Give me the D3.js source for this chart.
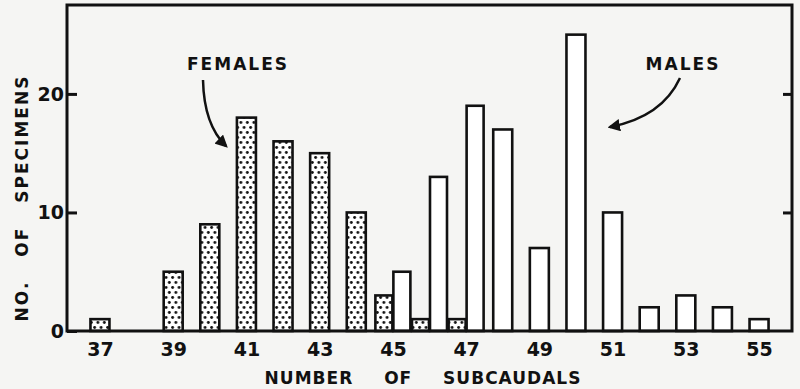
<!DOCTYPE html>
<html>
<head>
<meta charset="utf-8">
<script src="https://cdn.jsdelivr.net/npm/d3@7"></script>
<style>
  body { margin: 0; background: #f5f5f3; }
  svg { display: block; }
  text { font-family: "DejaVu Sans", sans-serif; font-weight: bold; fill: #111; }
</style>
</head>
<body>
<script>
// subcaudal counts and number of specimens
const subcaudals = [37, 38, 39, 40, 41, 42, 43, 44, 45, 46, 47, 48, 49, 50, 51, 52, 53, 54, 55];
const females    = [1, 0, 5, 9, 18, 16, 15, 10, 3, 1, 1, 0, 0, 0, 0, 0, 0, 0, 0];
const males      = [0, 0, 0, 0, 0, 0, 0, 0, 5, 13, 19, 17, 7, 25, 10, 2, 3, 2, 1];
const xTicks = [37, 39, 41, 43, 45, 47, 49, 51, 53, 55];
const yTicks = [0, 10, 20];

const W = 800, H = 389;
const margin = { top: 5, right: 8, bottom: 58, left: 67 };
const width = W - margin.left - margin.right;
const height = H - margin.top - margin.bottom;

const svg = d3.select("body").append("svg")
  .attr("width", W)
  .attr("height", H);

// stipple for the female bars
const defs = svg.append("defs");
const pat = defs.append("pattern")
  .attr("id", "dots")
  .attr("patternUnits", "userSpaceOnUse")
  .attr("width", 6.5)
  .attr("height", 10);
pat.append("rect").attr("width", 6.5).attr("height", 10).attr("fill", "#fff");
pat.append("circle").attr("cx", 1.6).attr("cy", 2.5).attr("r", 1.45).attr("fill", "#111");
pat.append("circle").attr("cx", 4.85).attr("cy", 7.5).attr("r", 1.45).attr("fill", "#111");

const g = svg.append("g").attr("transform", `translate(${margin.left},${margin.top})`);

// scales
const x = d3.scaleLinear().domain([36.1, 55.9]).range([0, width]);
const y = d3.scaleLinear().domain([0, 27.5]).range([height, 0]);

const rows = subcaudals.map((v, i) => ({ v, f: females[i], m: males[i] }));

// bars: single bars are centred on the count, paired ones sit side by side
const barW = 19, pairW = 17;

const femaleBars = rows.filter(d => d.f > 0);
g.selectAll("rect.female")
  .data(femaleBars)
  .join("rect")
  .attr("class", "female")
  .attr("x", d => d.m > 0 ? x(d.v) - pairW - 0.5 : x(d.v) - barW / 2)
  .attr("width", d => d.m > 0 ? pairW : barW)
  .attr("y", d => y(d.f))
  .attr("height", d => y(0) - y(d.f))
  .attr("fill", "url(#dots)")
  .attr("stroke", "#111")
  .attr("stroke-width", 2.6);

const maleBars = rows.filter(d => d.m > 0);
g.selectAll("rect.male")
  .data(maleBars)
  .join("rect")
  .attr("class", "male")
  .attr("x", d => d.f > 0 ? x(d.v) + 0.5 : x(d.v) - barW / 2)
  .attr("width", d => d.f > 0 ? pairW : barW)
  .attr("y", d => y(d.m))
  .attr("height", d => y(0) - y(d.m))
  .attr("fill", "#fff")
  .attr("stroke", "#111")
  .attr("stroke-width", 2.6);

// axes
const yAxis = d3.axisLeft(y).tickValues(yTicks).tickSizeInner(-10).tickSizeOuter(0).tickPadding(3);
const gy = g.append("g").call(yAxis);
gy.select(".domain").remove();
gy.selectAll("line").attr("stroke", "#111").attr("stroke-width", 3);
gy.selectAll("text").style("font-size", "19px").attr("fill", "#111");

const yAxisR = d3.axisRight(y).tickValues([10, 20]).tickSizeInner(-9).tickSizeOuter(0).tickFormat("");
const gyr = g.append("g").attr("transform", `translate(${width},0)`).call(yAxisR);
gyr.select(".domain").remove();
gyr.selectAll("line").attr("stroke", "#111").attr("stroke-width", 3);

const xAxis = d3.axisBottom(x).tickValues(xTicks).tickSize(0).tickPadding(12);
const gx = g.append("g").attr("transform", `translate(0,${height})`).call(xAxis);
gx.select(".domain").remove();
gx.selectAll("text").style("font-size", "19px").attr("fill", "#111");

// frame
g.append("rect")
  .attr("width", width)
  .attr("height", height)
  .attr("fill", "none")
  .attr("stroke", "#111")
  .attr("stroke-width", 3);

// axis titles
svg.append("text")
  .attr("x", 423)
  .attr("y", 384)
  .attr("text-anchor", "middle")
  .style("font-size", "17px")
  .style("letter-spacing", "1px")
  .style("word-spacing", "24px")
  .text("NUMBER OF SUBCAUDALS");

svg.append("text")
  .attr("transform", "translate(28,198) rotate(-90)")
  .attr("text-anchor", "middle")
  .style("font-size", "17px")
  .style("letter-spacing", "2px")
  .style("word-spacing", "16px")
  .text("NO. OF SPECIMENS");

// annotations
defs.append("marker")
  .attr("id", "head")
  .attr("viewBox", "0 0 10 10")
  .attr("refX", 8).attr("refY", 5)
  .attr("markerWidth", 5).attr("markerHeight", 5)
  .attr("orient", "auto")
  .append("path")
  .attr("d", "M0,0 L10,5 L0,10 Z")
  .attr("fill", "#111");

svg.append("text")
  .attr("x", 238).attr("y", 70)
  .attr("text-anchor", "middle")
  .style("font-size", "17px")
  .style("letter-spacing", "2px")
  .text("FEMALES");

svg.append("path")
  .attr("d", "M203,80 Q204,125 226,146")
  .attr("fill", "none")
  .attr("stroke", "#111")
  .attr("stroke-width", 2.5)
  .attr("marker-end", "url(#head)");

svg.append("text")
  .attr("x", 683).attr("y", 70)
  .attr("text-anchor", "middle")
  .style("font-size", "17px")
  .style("letter-spacing", "2px")
  .text("MALES");

svg.append("path")
  .attr("d", "M680,78 Q662,117 610,127")
  .attr("fill", "none")
  .attr("stroke", "#111")
  .attr("stroke-width", 2.5)
  .attr("marker-end", "url(#head)");
</script>
</body>
</html>
